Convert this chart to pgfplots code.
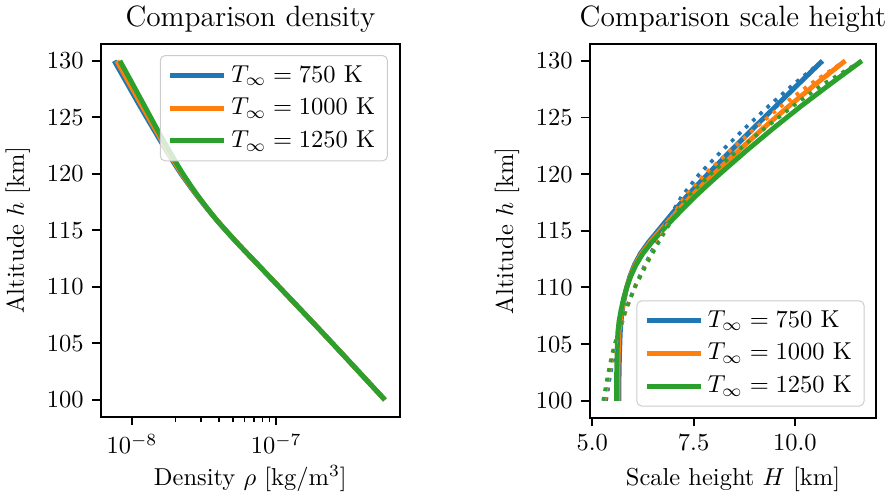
\documentclass[border=0pt]{standalone}
\usepackage{pgfplots}
\pgfplotsset{compat=1.18}
\definecolor{tabblue}{HTML}{1F77B4}
\definecolor{taborange}{HTML}{FF7F0E}
\definecolor{tabgreen}{HTML}{2CA02C}
\pgfplotsset{
  mpl/.style={
    scale only axis,
    axis line style={line width=0.8pt},
    tick align=outside,
    tick pos=left,
    major tick length=3.5pt,
    minor tick length=2pt,
    every tick/.style={black, line width=0.8pt},
    every minor tick/.style={black, line width=0.6pt},
    title style={font=\large, yshift=-5pt},
    ylabel={Altitude $h$ [km]},
    ymin=98.5, ymax=131.5,
    ytick={100,105,...,130},
    legend cell align=left,
    legend style={draw=black!20, rounded corners=2pt, fill=white, fill opacity=0.8, text opacity=1,
      inner xsep=3pt, inner ysep=2pt, row sep=1pt, font=\normalsize},
    legend image code/.code={\draw[#1, line width=2pt] (-1pt,0pt) -- (21pt,0pt);},
  },
  sol/.style={line width=2pt},
  dot/.style={line width=1.5pt, dash pattern=on 1.5pt off 2.5pt},
}
\begin{document}
\begin{tikzpicture}
\useasboundingbox (0,0) rectangle (362.6pt,203.3pt);
\begin{axis}[mpl,
  at={(41.2pt,33.1pt)}, anchor=south west,
  width=122.1pt, height=152.3pt,
  xmode=log, xmin=6.09e-9, xmax=7.18e-7,
  xtick={1e-8,1e-7},
  title={Comparison density},
  xlabel={Density $\rho$ [kg/m$^3$]},
  xlabel style={yshift=2pt},
  legend style={at={(0.96,0.97)}, anchor=north east},
]
\addplot[sol, tabblue, smooth] coordinates {
(5.649e-7,100) (4.046e-7,102) (2.897e-7,104) (2.070e-7,106) (1.472e-7,108) (1.045e-7,110)
(7.413e-8,112) (5.260e-8,114) (3.811e-8,116) (2.844e-8,118) (2.188e-8,120) (1.742e-8,122)
(1.403e-8,124) (1.135e-8,126) (9.247e-9,128) (7.534e-9,130)};
\addlegendentry{$T_{\infty} = 750$ K}
\addplot[sol, taborange, smooth] coordinates {
(5.649e-7,100) (4.046e-7,102) (2.897e-7,104) (2.070e-7,106) (1.472e-7,108) (1.045e-7,110)
(7.413e-8,112) (5.260e-8,114) (3.811e-8,116) (2.864e-8,118) (2.218e-8,120) (1.778e-8,122)
(1.442e-8,124) (1.175e-8,126) (9.594e-9,128) (7.852e-9,130)};
\addlegendentry{$T_{\infty} = 1000$ K}
\addplot[sol, tabgreen, smooth] coordinates {
(5.649e-7,100) (4.046e-7,102) (2.897e-7,104) (2.070e-7,106) (1.472e-7,108) (1.045e-7,110)
(7.413e-8,112) (5.260e-8,114) (3.811e-8,116) (2.884e-8,118) (2.254e-8,120) (1.820e-8,122)
(1.486e-8,124) (1.222e-8,126) (1.005e-8,128) (8.241e-9,130)};
\addlegendentry{$T_{\infty} = 1250$ K}
\end{axis}
\begin{axis}[mpl,
  at={(240.9pt,32.7pt)}, anchor=south west,
  width=116.8pt, height=152.7pt,
  xmin=4.943, xmax=12.0,
  xtick={5,7.5,10},
  xticklabel style={/pgf/number format/.cd, fixed, fixed zerofill, precision=1},
  title={Comparison scale height},
  xlabel={Scale height $H$ [km]},
  legend style={at={(0.96,0.03)}, anchor=south east},
]
\addplot[sol, tabblue] coordinates {
(5.66,100) (5.66,102) (5.67,104) (5.69,106) (5.71,107) (5.74,108) (5.79,109) (5.85,110)
(5.93,111) (6.04,112) (6.19,113) (6.39,114) (6.62,115) (6.85,116) (7.08,117) (7.32,118)
(7.58,119) (7.85,120) (8.40,122) (8.96,124) (9.53,126) (10.10,128) (10.68,130)};
\addlegendentry{$T_{\infty} = 750$ K}
\addplot[sol, taborange] coordinates {
(5.63,100) (5.63,102) (5.64,104) (5.66,106) (5.69,107) (5.73,108) (5.78,109) (5.85,110)
(5.94,111) (6.06,112) (6.22,113) (6.43,114) (6.67,115) (6.92,116) (7.17,117) (7.43,118)
(7.71,119) (8.00,120) (8.59,122) (9.20,124) (9.85,126) (10.53,128) (11.24,130)};
\addlegendentry{$T_{\infty} = 1000$ K}
\addplot[sol, tabgreen] coordinates {
(5.60,100) (5.60,102) (5.61,104) (5.63,106) (5.66,107) (5.71,108) (5.77,109) (5.85,110)
(5.95,111) (6.08,112) (6.25,113) (6.47,114) (6.72,115) (6.98,116) (7.25,117) (7.53,118)
(7.83,119) (8.14,120) (8.78,122) (9.45,124) (10.15,126) (10.89,128) (11.65,130)};
\addlegendentry{$T_{\infty} = 1250$ K}
\addplot[dot, tabblue, forget plot] coordinates {
(5.34,100) (5.43,102) (5.53,104) (5.66,106) (5.83,108) (6.04,110) (6.30,112) (6.58,114)
(6.87,116) (7.20,118) (7.64,120) (8.18,122) (8.75,124) (9.35,126) (9.99,128) (10.68,130)};
\addplot[dot, taborange, forget plot] coordinates {
(5.30,100) (5.40,102) (5.50,104) (5.65,106) (5.83,108) (6.05,110) (6.32,112) (6.61,114)
(6.92,116) (7.28,118) (7.78,120) (8.38,122) (9.00,124) (9.66,126) (10.40,128) (11.24,130)};
\addplot[dot, tabgreen, forget plot] coordinates {
(5.27,100) (5.37,102) (5.48,104) (5.63,106) (5.82,108) (6.05,110) (6.33,112) (6.64,114)
(6.97,116) (7.35,118) (7.92,120) (8.56,122) (9.24,124) (9.95,126) (10.72,128) (11.65,130)};
\end{axis}
\end{tikzpicture}
\end{document}
